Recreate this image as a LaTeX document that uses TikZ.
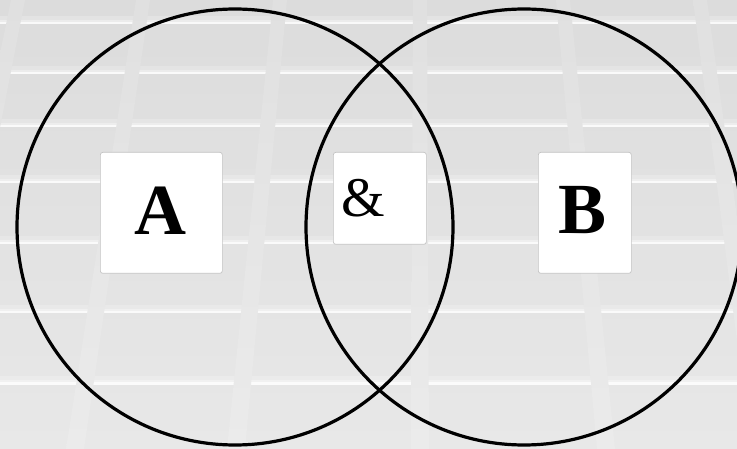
\documentclass[tikz,border=0pt]{standalone}
\usepackage{fontspec}
\setmainfont{Liberation Serif}
\definecolor{floortop}{HTML}{DCDCDC}
\definecolor{floorbot}{HTML}{E8E8E8}
\definecolor{seamtop}{HTML}{E0E0E0}
\definecolor{seambot}{HTML}{EBEBEB}
\definecolor{cardedge}{HTML}{C4C4C4}
\begin{document}
\begin{tikzpicture}[x=1pt,y=-1pt,
  ring/.style={circle, draw=black, line width=3.2pt, minimum size=436pt, inner sep=0pt},
  card/.style={draw=cardedge, fill=white, line width=0.7pt, rounded corners=2.5pt,
    inner sep=0pt, anchor=north west},
  letter/.style={inner sep=0pt, anchor=base},
]
\useasboundingbox (0,0) rectangle (737,449);

% tiled floor: base gradient
\shade[top color=floortop, bottom color=floorbot] (0,0) rectangle (737,449);

% horizontal tile joints (bright edge fading upward)
\foreach \y in {23,73,126,182,243,312,383} {
  \fill[white, opacity=0.2] (0,\y-7) rectangle (737,\y-3);
  \fill[white, opacity=0.45] (0,\y-3) rectangle (737,\y-1);
  \fill[white, opacity=0.85] (0,\y-1) rectangle (737,\y+1.5);
}

% receding tile joints (top centre / bottom centre)
\foreach \xt/\xb in {18/-72, 143/75, 280/236, 420/420, 563/606, 700/760} {
  \shade[top color=seamtop, bottom color=seambot]
    (\xt-7,0) -- (\xt+7,0) -- (\xb+9,449) -- (\xb-9,449) -- cycle;
}

% the two sets
\node[ring] (setA) at (235,227) {};
\node[ring] (setB) at (524,227) {};

% label cards
\node[card, minimum width=122pt, minimum height=121pt] (cardA) at (100,152) {};
\node[card, minimum width=93pt, minimum height=92pt] (cardAnd) at (333,152) {};
\node[card, minimum width=93pt, minimum height=121pt] (cardB) at (538,152) {};

\node[letter, font=\fontsize{72}{72}\selectfont\bfseries] (labA) at (160,235) {A};
\node[letter, font=\fontsize{56}{56}\selectfont] (labAnd) at (363,216.5) {\&};
\node[letter, font=\fontsize{72}{72}\selectfont\bfseries] (labB) at (582.5,234) {B};
\end{tikzpicture}
\end{document}
